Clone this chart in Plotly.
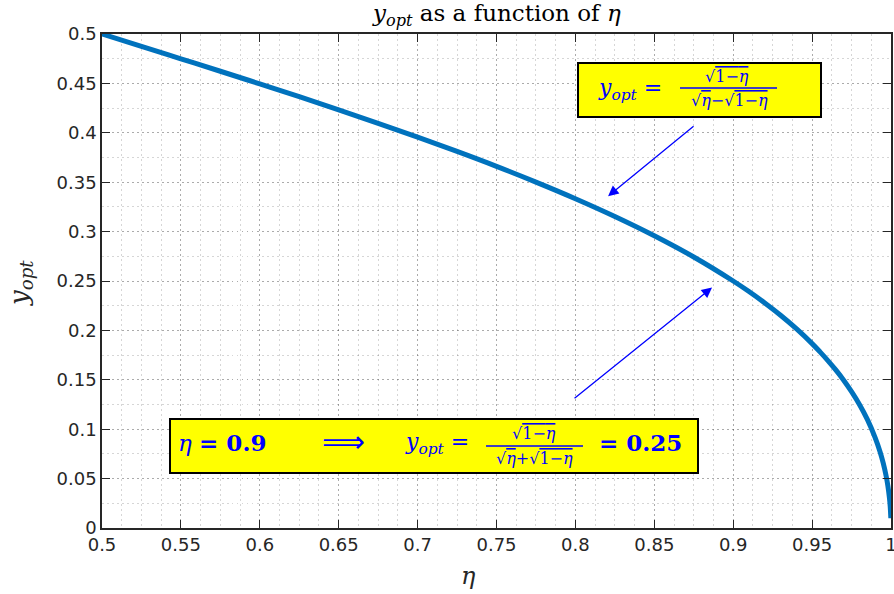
import plotly.graph_objects as go

# ---- data ----
eta = [0.5, 0.525, 0.55, 0.575, 0.6, 0.625, 0.65, 0.675, 0.7, 0.725, 0.75, 0.775,
       0.8, 0.825, 0.85, 0.875, 0.9, 0.91, 0.92, 0.93, 0.94, 0.95, 0.955, 0.96,
       0.965, 0.97, 0.975, 0.98, 0.985, 0.99, 0.993, 0.995, 0.997, 0.998, 0.999,
       0.9995, 0.9999]
y_opt = [0.5, 0.4875, 0.4749, 0.4623, 0.4495, 0.4365, 0.4232, 0.4096, 0.3956, 0.3811,
         0.3660, 0.3501, 0.3333, 0.3153, 0.2958, 0.2743, 0.25, 0.2393, 0.2277, 0.2153,
         0.2017, 0.1866, 0.1783, 0.1695, 0.1600, 0.1496, 0.1380, 0.1250, 0.1099, 0.0913,
         0.0775, 0.0662, 0.0520, 0.0428, 0.0307, 0.0219, 0.0099]

x_ticks = [0.5, 0.55, 0.6, 0.65, 0.7, 0.75, 0.8, 0.85, 0.9, 0.95, 1.0]
x_tick_text = ["0.5", "0.55", "0.6", "0.65", "0.7", "0.75", "0.8", "0.85", "0.9", "0.95", "1"]
y_ticks = [0, 0.05, 0.1, 0.15, 0.2, 0.25, 0.3, 0.35, 0.4, 0.45, 0.5]
y_tick_text = ["0", "0.05", "0.1", "0.15", "0.2", "0.25", "0.3", "0.35", "0.4", "0.45", "0.5"]

# arrow tips (data coords)
arrow1_tip = (0.8207, 0.3359)
arrow2_tip = (0.8866, 0.2434)

# ---- layout geometry ----
W, H = 894, 594
L, R, T, B = 102, 3, 34, 66
PW, PH = W - L - R, H - T - B


def px(xp):
    return (xp - L) / PW


def py(yp):
    return (H - B - yp) / PH


SERIF = "DejaVu Serif"
BLUE = "#0000FF"
AXC = "#262626"

fig = go.Figure()
fig.add_trace(go.Scatter(x=eta, y=y_opt, mode="lines",
                         line=dict(color="#0072BD", width=5, shape="spline"),
                         showlegend=False, hoverinfo="skip"))

grid = dict(showgrid=True, gridcolor="rgba(0,0,0,0.2)", griddash="1.5px,3.5px", gridwidth=1)
minor_grid = dict(showgrid=True, gridcolor="rgba(0,0,0,0.16)", griddash="1.5px,3.5px", gridwidth=1)

common = dict(ticks="inside", ticklen=8, tickwidth=1.3, tickcolor=AXC,
              showline=True, linecolor=AXC, linewidth=1.5, mirror="ticks",
              tickfont=dict(family="DejaVu Sans", size=18, color=AXC),
              zeroline=False, automargin=False, ticklabeloverflow="allow")

fig.update_xaxes(range=[0.5, 1], tickvals=x_ticks, ticktext=x_tick_text,
                 minor=dict(dtick=0.0125, **minor_grid), **grid, **common)
fig.update_yaxes(range=[0, 0.5], tickvals=y_ticks, ticktext=y_tick_text,
                 minor=dict(dtick=0.025, **minor_grid), **grid, **common)

shapes = []
annots = []

# yellow boxes
shapes.append(dict(type="rect", xref="paper", yref="paper",
                   x0=px(578), x1=px(821), y0=py(117), y1=py(63),
                   fillcolor="#FFFF00", line=dict(color="black", width=2)))
shapes.append(dict(type="rect", xref="paper", yref="paper",
                   x0=px(170), x1=px(698), y0=py(473), y1=py(419),
                   fillcolor="#FFFF00", line=dict(color="black", width=2)))
# fraction bars
shapes.append(dict(type="line", xref="paper", yref="paper",
                   x0=px(680), x1=px(777), y0=py(88), y1=py(88),
                   line=dict(color=BLUE, width=1.3)))
shapes.append(dict(type="line", xref="paper", yref="paper",
                   x0=px(486), x1=px(583), y0=py(446), y1=py(446),
                   line=dict(color=BLUE, width=1.3)))


def txt(x, y, s, size, color=BLUE, family=SERIF):
    annots.append(dict(xref="paper", yref="paper", x=px(x), y=py(y), text=s,
                       showarrow=False, xanchor="center", yanchor="middle",
                       font=dict(family=family, size=size, color=color)))


OV = "<span style='text-decoration:overline'>%s</span>"
yopt = "<i>y</i><sub><i>opt</i></sub>"

# box 1
txt(630, 89, yopt + " =", 22)
txt(727, 76, "√" + OV % "1−<i>η</i>", 16)
txt(729, 100, "√" + OV % "<i>η</i>" + "−√" + OV % "1−<i>η</i>", 16)
# box 2
txt(222, 442, "<i>η</i> <b>= 0.9</b>", 23)
txt(343, 441, "⟹", 30, family="DejaVu Sans")
txt(437, 443, yopt + " =", 22)
txt(534, 433, "√" + OV % "1−<i>η</i>", 16)
txt(534, 458, "√" + OV % "<i>η</i>" + "+√" + OV % "1−<i>η</i>", 16)
txt(640, 442, "<b>= 0.25</b>", 23)

# titles
txt(496, 15, yopt + " as a function of <i>η</i>", 23, color="black")
txt(468, 576, "<i>η</i>", 24, color=AXC)
annots.append(dict(xref="paper", yref="paper", x=px(20), y=py(283),
                   text=yopt, showarrow=False, textangle=-90,
                   xanchor="center", yanchor="middle",
                   font=dict(family=SERIF, size=26, color=AXC)))

# arrows
annots.append(dict(x=arrow1_tip[0], y=arrow1_tip[1], xref="x", yref="y", text="",
                   showarrow=True, ax=87, ay=-71, arrowcolor=BLUE, arrowwidth=1.3,
                   arrowhead=2, arrowsize=1.6, standoff=0))
annots.append(dict(x=arrow2_tip[0], y=arrow2_tip[1], xref="x", yref="y", text="",
                   showarrow=True, ax=-139, ay=112, arrowcolor=BLUE, arrowwidth=1.3,
                   arrowhead=2, arrowsize=1.6, standoff=0))

fig.update_layout(width=W, height=H, margin=dict(l=L, r=R, t=T, b=B),
                  paper_bgcolor="white", plot_bgcolor="white",
                  shapes=shapes, annotations=annots, showlegend=False)

fig.write_html("out.html", config={"displayModeBar": False},
               post_script="document.body.style.margin='0';"
                           "document.body.style.overflow='hidden';")
